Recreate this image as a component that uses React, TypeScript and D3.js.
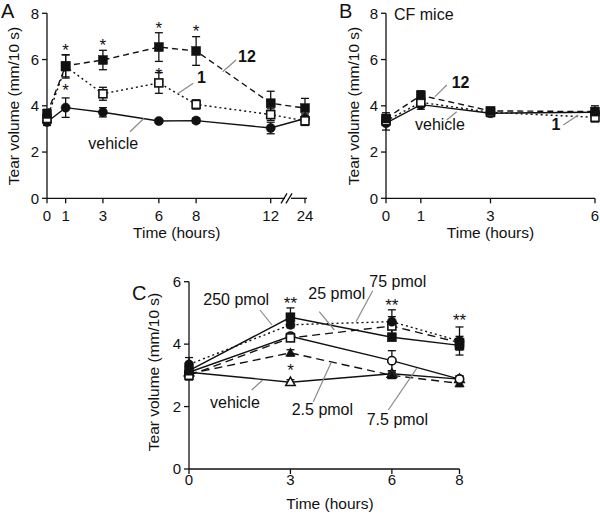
import React from 'react';
import * as d3 from 'd3';

const FONT = '"Liberation Sans", Arial, Helvetica, sans-serif';
const INK = '#111';
const GREY = '#8a8a8a';

// ---------- Panel A data ----------
const timeA = [0, 1, 3, 6, 8, 12, 24];
const tickLabelsA = ['0', '1', '3', '6', '8', '12', '24'];
const a12 = [3.65, 5.73, 5.98, 6.54, 6.37, 4.11, 3.9];
const a12Err = [0.2, 0.48, 0.42, 0.62, 0.62, 0.52, 0.42];
const a1 = [3.45, 5.7, 4.52, 4.99, 4.06, 3.62, 3.35];
const a1Err = [0.2, 0.5, 0.28, 0.45, 0.2, 0.25, 0.2];
const aVeh = [3.3, 3.92, 3.72, 3.34, 3.36, 3.04, 3.45];
const aVehErr = [0.15, 0.42, 0.2, 0.08, 0.1, 0.25, 0.2];
const starsA = [
  { t: 1, v: 6.56 }, { t: 1, v: 4.86 }, { t: 3, v: 6.77 },
  { t: 6, v: 7.54 }, { t: 6, v: 5.54 }, { t: 8, v: 7.38 },
];

// ---------- Panel B data ----------
const timeB = [0, 1, 3, 6];
const b12 = [3.45, 4.45, 3.78, 3.75];
const b12Err = [0.25, 0.2, 0.15, 0.25];
const b1 = [3.35, 4.15, 3.72, 3.5];
const b1Err = [0.2, 0.2, 0.15, 0.2];
const bVeh = [3.25, 4.05, 3.68, 3.72];
const bVehErr = [0.3, 0.2, 0.15, 0.15];

// ---------- Panel C data ----------
const timeC = [0, 3, 6, 8];
const cVeh = [3.1, 2.78, 3.05, 2.88];
const cVehErr = [0.15, 0.08, 0.1, 0.1];
const c2_5 = [3.05, 3.72, 3.0, 2.74];
const c2_5Err = [0.15, 0.1, 0.1, 0.1];
const c7_5 = [3.1, 4.25, 3.47, 2.88];
const c7_5Err = [0.15, 0.1, 0.32, 0.1];
const c25 = [3.0, 4.2, 4.58, 4.05];
const c25Err = [0.15, 0.1, 0.3, 0.2];
const c75 = [3.35, 4.62, 4.72, 4.1];
const c75Err = [0.22, 0.1, 0.38, 0.45];
const c250 = [3.15, 4.86, 4.22, 3.96];
const c250Err = [0.15, 0.3, 0.1, 0.15];
const starsC = [
  { t: 3, v: 5.43, s: '**' }, { t: 3, v: 3.29, s: '*' },
  { t: 6, v: 5.36, s: '**' }, { t: 8, v: 4.88, s: '**' },
];

const yTicksAB = [0, 2, 4, 6, 8];
const yTicksC = [0, 2, 4, 6];

type Marker = 'sqF' | 'sqO' | 'cF' | 'cO' | 'tF' | 'tO';
type Series = { x: number[]; y: number[]; err: number[]; dash: string; marker: Marker };

function MarkerShape({ m, cx, cy }: { m: Marker; cx: number; cy: number }) {
  const filled = m.endsWith('F');
  const fill = filled ? INK : '#fff';
  const sw = 1.6;
  if (m.startsWith('sq')) {
    const s = filled ? 9 : 8;
    return <rect x={cx - s / 2} y={cy - s / 2} width={s} height={s} fill={fill} stroke={INK} strokeWidth={filled ? 0.5 : sw} />;
  }
  if (m.startsWith('c')) {
    return <circle cx={cx} cy={cy} r={filled ? 4.6 : 4.2} fill={fill} stroke={INK} strokeWidth={filled ? 0.5 : sw} />;
  }
  const h = 8.5;
  const w = 9.5;
  const p = `M${cx},${cy - h * 0.6}L${cx + w / 2},${cy + h * 0.4}L${cx - w / 2},${cy + h * 0.4}Z`;
  return <path d={p} fill={fill} stroke={INK} strokeWidth={filled ? 0.5 : 1.5} strokeLinejoin="miter" />;
}

function Plot({ series, xs, ys }: { series: Series[]; xs: (v: number) => number; ys: d3.ScaleLinear<number, number> }) {
  const line = d3.line<[number, number]>().x(d => xs(d[0])).y(d => ys(d[1]));
  return (
    <g>
      {series.map((s, i) => (
        <path key={'l' + i} d={line(s.x.map((t, j) => [t, s.y[j]]) as [number, number][]) || ''}
          fill="none" stroke={INK} strokeWidth={1.4} strokeDasharray={s.dash} />
      ))}
      {series.map((s, i) => (
        <g key={'e' + i}>
          {s.x.map((t, j) => {
            const cx = xs(t);
            const top = ys(s.y[j] + s.err[j]);
            const bot = ys(s.y[j] - s.err[j]);
            return (
              <g key={j} stroke={INK} strokeWidth={1.3}>
                <line x1={cx} x2={cx} y1={top} y2={bot} />
                <line x1={cx - 4} x2={cx + 4} y1={top} y2={top} />
                <line x1={cx - 4} x2={cx + 4} y1={bot} y2={bot} />
              </g>
            );
          })}
        </g>
      ))}
      {series.map((s, i) => (
        <g key={'m' + i}>
          {s.x.map((t, j) => <MarkerShape key={j} m={s.marker} cx={xs(t)} cy={ys(s.y[j])} />)}
        </g>
      ))}
    </g>
  );
}

function YAxis({ ys, ticks, x }: { ys: d3.ScaleLinear<number, number>; ticks: number[]; x: number }) {
  const d = ys.domain();
  return (
    <g>
      <line x1={x} x2={x} y1={ys(d[1])} y2={ys(d[0])} stroke={INK} strokeWidth={1.3} />
      {ticks.map(t => (
        <g key={t}>
          <line x1={x - 5} x2={x} y1={ys(t)} y2={ys(t)} stroke={INK} strokeWidth={1.3} />
          <text x={x - 8} y={ys(t) + 5.3} textAnchor="end" fontSize={15} fill={INK}>{t}</text>
        </g>
      ))}
    </g>
  );
}

function Leader({ x1, y1, x2, y2 }: { x1: number; y1: number; x2: number; y2: number }) {
  return <line x1={x1} y1={y1} x2={x2} y2={y2} stroke={GREY} strokeWidth={1.2} />;
}

const STAR = 17;

export default function App() {
  // Panel A scales
  const yA = d3.scaleLinear().domain([0, 8]).range([198.3, 13.3]);
  const xA = d3.scaleLinear().domain([0, 12, 24]).range([47, 270.7, 305]);
  // Panel B
  const yB = d3.scaleLinear().domain([0, 8]).range([198.3, 13.3]);
  const xB = d3.scaleLinear().domain([0, 6]).range([386, 595]);
  // Panel C
  const yC = d3.scaleLinear().domain([0, 6]).range([469, 281.7]);
  const xC = d3.scaleLinear().domain([0, 8]).range([189, 459.5]);

  const seriesA: Series[] = [
    { x: timeA, y: aVeh, err: aVehErr, dash: '', marker: 'cF' },
    { x: timeA, y: a1, err: a1Err, dash: '2 3', marker: 'sqO' },
    { x: timeA, y: a12, err: a12Err, dash: '6 4', marker: 'sqF' },
  ];
  const seriesB: Series[] = [
    { x: timeB, y: bVeh, err: bVehErr, dash: '', marker: 'cF' },
    { x: timeB, y: b1, err: b1Err, dash: '2 3', marker: 'sqO' },
    { x: timeB, y: b12, err: b12Err, dash: '6 4', marker: 'sqF' },
  ];
  const seriesC: Series[] = [
    { x: timeC, y: cVeh, err: cVehErr, dash: '', marker: 'tO' },
    { x: timeC, y: c2_5, err: c2_5Err, dash: '8 5', marker: 'tF' },
    { x: timeC, y: c7_5, err: c7_5Err, dash: '', marker: 'cO' },
    { x: timeC, y: c25, err: c25Err, dash: '8 5', marker: 'sqO' },
    { x: timeC, y: c75, err: c75Err, dash: '2 3', marker: 'cF' },
    { x: timeC, y: c250, err: c250Err, dash: '', marker: 'sqF' },
  ];

  const axisY = yA(0);
  const axisYC = yC(0);

  return (
    <svg width={600} height={514} style={{ position: 'absolute', left: 0, top: 0, background: '#fff' }}
      fontFamily={FONT}>
      <rect width={600} height={514} fill="#fff" />

      {/* ===== Panel A ===== */}
      <text x={1} y={18} fontSize={20} fill={INK}>A</text>
      <YAxis ys={yA} ticks={yTicksAB} x={47} />
      <line x1={47} x2={285} y1={axisY} y2={axisY} stroke={INK} strokeWidth={1.3} />
      <line x1={291} x2={307} y1={axisY} y2={axisY} stroke={INK} strokeWidth={1.3} />
      <line x1={281} x2={287} y1={axisY + 5} y2={axisY - 5} stroke={INK} strokeWidth={1.3} />
      <line x1={286} x2={292} y1={axisY + 5} y2={axisY - 5} stroke={INK} strokeWidth={1.3} />
      {timeA.map((t, i) => (
        <g key={t}>
          <line x1={xA(t)} x2={xA(t)} y1={axisY} y2={axisY + 5} stroke={INK} strokeWidth={1.3} />
          <text x={xA(t)} y={220.5} textAnchor="middle" fontSize={15} fill={INK}>{tickLabelsA[i]}</text>
        </g>
      ))}
      <text transform="translate(19,106) rotate(-90)" textAnchor="middle" fontSize={15.5} fill={INK}>Tear volume (mm/10 s)</text>
      <text x={176.7} y={237.7} textAnchor="middle" fontSize={15.5} fill={INK}>Time (hours)</text>
      <Plot series={seriesA} xs={xA} ys={yA} />
      {starsA.map((s, i) => (
        <text key={i} x={xA(s.t)} y={yA(s.v) + STAR * 0.57} textAnchor="middle" fontSize={STAR} fill={INK}>*</text>
      ))}
      <Leader x1={236} y1={60} x2={222.7} y2={71.7} />
      <text x={238} y={61.7} fontSize={16} fontWeight="bold" fill={INK}>12</text>
      <Leader x1={193.3} y1={83.3} x2={178.3} y2={93.3} />
      <text x={197} y={83.3} fontSize={16} fontWeight="bold" fill={INK}>1</text>
      <Leader x1={130} y1={131.7} x2={144} y2={118.3} />
      <text x={88.3} y={149.3} fontSize={16} fill={INK}>vehicle</text>

      {/* ===== Panel B ===== */}
      <text x={339} y={18} fontSize={20} fill={INK}>B</text>
      <text x={394} y={19.5} fontSize={16} fill={INK}>CF mice</text>
      <YAxis ys={yB} ticks={yTicksAB} x={386} />
      <line x1={386} x2={595} y1={axisY} y2={axisY} stroke={INK} strokeWidth={1.3} />
      {timeB.map(t => (
        <g key={t}>
          <line x1={xB(t)} x2={xB(t)} y1={axisY} y2={axisY + 5} stroke={INK} strokeWidth={1.3} />
          <text x={xB(t)} y={220.5} textAnchor="middle" fontSize={15} fill={INK}>{t}</text>
        </g>
      ))}
      <text transform="translate(359,106) rotate(-90)" textAnchor="middle" fontSize={15.5} fill={INK}>Tear volume (mm/10 s)</text>
      <text x={490.5} y={237.7} textAnchor="middle" fontSize={15.5} fill={INK}>Time (hours)</text>
      <Plot series={seriesB} xs={xB} ys={yB} />
      <Leader x1={446.7} y1={85} x2={435} y2={96.7} />
      <text x={451.7} y={87.5} fontSize={16} fontWeight="bold" fill={INK}>12</text>
      <Leader x1={446.7} y1={120} x2={456.7} y2={111.7} />
      <text x={415} y={130} fontSize={16} fill={INK}>vehicle</text>
      <Leader x1={563.3} y1={125} x2={578.3} y2={115} />
      <text x={551.5} y={130} fontSize={16} fontWeight="bold" fill={INK}>1</text>

      {/* ===== Panel C ===== */}
      <text x={132} y={300} fontSize={20} fill={INK}>C</text>
      <YAxis ys={yC} ticks={yTicksC} x={189} />
      <line x1={189} x2={459.5} y1={axisYC} y2={axisYC} stroke={INK} strokeWidth={1.3} />
      {timeC.map(t => (
        <g key={t}>
          <line x1={xC(t)} x2={xC(t)} y1={axisYC} y2={axisYC + 5} stroke={INK} strokeWidth={1.3} />
          <text x={xC(t)} y={485} textAnchor="middle" fontSize={15} fill={INK}>{t}</text>
        </g>
      ))}
      <text transform="translate(159,372) rotate(-90)" textAnchor="middle" fontSize={15.5} fill={INK}>Tear volume (mm/10 s)</text>
      <text x={330} y={509} textAnchor="middle" fontSize={15.5} fill={INK}>Time (hours)</text>
      <Plot series={seriesC} xs={xC} ys={yC} />
      {starsC.map((s, i) => (
        <text key={i} x={xC(s.t)} y={yC(s.v) + STAR * 0.57} textAnchor="middle" fontSize={STAR} fill={INK}>{s.s}</text>
      ))}
      <Leader x1={260} y1={310} x2={272} y2={325} />
      <text x={203.3} y={304.5} fontSize={16} fill={INK}>250 pmol</text>
      <Leader x1={319.3} y1={311.7} x2={334.3} y2={330} />
      <text x={308.3} y={299} fontSize={16} fill={INK}>25 pmol</text>
      <Leader x1={372.7} y1={290.7} x2={356} y2={321.7} />
      <text x={369.3} y={287.3} fontSize={16} fill={INK}>75 pmol</text>
      <Leader x1={251.7} y1={390} x2={262.7} y2={380} />
      <text x={210} y={408.3} fontSize={16} fill={INK}>vehicle</text>
      <Leader x1={313.3} y1={401.7} x2={331} y2={362.7} />
      <text x={291.7} y={415} fontSize={16} fill={INK}>2.5 pmol</text>
      <Leader x1={388.3} y1={410} x2={416.7} y2={368.3} />
      <text x={366.7} y={425} fontSize={16} fill={INK}>7.5 pmol</text>
    </svg>
  );
}
